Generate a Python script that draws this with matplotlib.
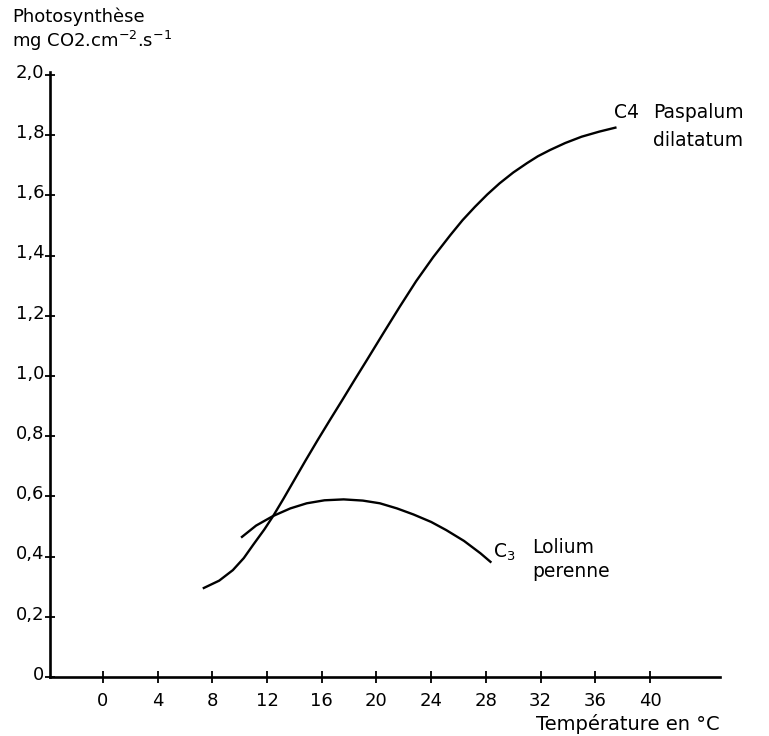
"""Photosynthèse en fonction de la température : C4 (Paspalum) vs C3 (Lolium)."""

import matplotlib

matplotlib.use("Agg")
import matplotlib.pyplot as plt  # noqa: E402
from matplotlib.transforms import ScaledTranslation  # noqa: E402

# courbe C4 - Paspalum dilatatum
c4_temp = [7.3, 8.5, 9.5, 10.3, 11.0, 11.8, 12.45, 13.2, 14.0, 14.8, 15.7, 16.6,
           17.5, 18.4, 19.3, 20.5, 21.7, 22.9, 24.15, 25.4, 26.3, 27.2, 28.1, 29.0,
           30.0, 31.0, 31.8, 32.7, 33.8, 35.0, 36.3, 37.55]
c4_photo = [0.294, 0.320, 0.355, 0.395, 0.440, 0.490, 0.535, 0.592, 0.655, 0.718,
            0.787, 0.854, 0.920, 0.987, 1.053, 1.142, 1.230, 1.315, 1.395, 1.468,
            1.518, 1.562, 1.603, 1.640, 1.676, 1.707, 1.730, 1.751, 1.774, 1.795,
            1.812, 1.826]

# courbe C3 - Lolium perenne
c3_temp = [10.1, 11.2, 12.45, 13.7, 14.9, 16.2, 17.6, 19.0, 20.25, 21.5,
           22.7, 24.0, 25.1, 26.4, 27.6, 28.4]
c3_photo = [0.463, 0.503, 0.535, 0.560, 0.577, 0.587, 0.590, 0.586, 0.577, 0.560,
            0.540, 0.515, 0.488, 0.452, 0.411, 0.380]

x_ticks = [0, 4, 8, 12, 16, 20, 24, 28, 32, 36, 40]
y_ticks = [0, 0.2, 0.4, 0.6, 0.8, 1.0, 1.2, 1.4, 1.6, 1.8, 2.0]
y_labels = ["0", "0,2", "0,4", "0,6", "0,8", "1,0", "1,2", "1,4", "1,6", "1,8", "2,0"]

plt.rcParams["font.family"] = ["DejaVu Sans"]
plt.rcParams["mathtext.default"] = "regular"

fig = plt.figure(figsize=(7.69, 7.36), dpi=100)
ax = fig.add_axes([0.065, 0.0802, 0.871, 0.822])

ax.plot(c4_temp, c4_photo, color="black", lw=1.7, solid_capstyle="butt",
        solid_joinstyle="round")
ax.plot(c3_temp, c3_photo, color="black", lw=1.7, solid_capstyle="butt",
        solid_joinstyle="round")

ax.set_xlim(-3.87, 45.1)
ax.set_ylim(0, 2.01)
for side in ("top", "right"):
    ax.spines[side].set_visible(False)
for side in ("left", "bottom"):
    ax.spines[side].set_linewidth(1.9)

ax.set_xticks(x_ticks)
ax.set_yticks(y_ticks, labels=y_labels)
ax.tick_params(axis="x", direction="inout", length=8, width=1.3, pad=7, labelsize=13)
ax.tick_params(axis="y", direction="inout", length=7, width=1.3, pad=0.5, labelsize=13)
# les valeurs de l'axe y sont un peu au-dessus des graduations
shift = ScaledTranslation(0, 3 / 72, fig.dpi_scale_trans)
for lab in ax.get_yticklabels():
    lab.set_transform(lab.get_transform() + shift)

# étiquettes des courbes
ax.text(37.4, 1.874, "C4", fontsize=13.5, va="center", ha="left")
ax.text(40.2, 1.874, "Paspalum", fontsize=13.5, va="center", ha="left")
ax.text(40.2, 1.784, "dilatatum", fontsize=13.5, va="center", ha="left")
ax.text(28.5, 0.415, "C$_3$", fontsize=13.5, va="center", ha="left")
ax.text(31.4, 0.429, "Lolium", fontsize=13.5, va="center", ha="left")
ax.text(31.4, 0.349, "perenne", fontsize=13.5, va="center", ha="left")

fig.text(0.0156, 0.977, "Photosynthèse", fontsize=13, va="center", ha="left")
fig.text(0.0156, 0.944, "mg CO2.cm$^{-2}$.s$^{-1}$", fontsize=13, va="center", ha="left")
fig.text(0.936, 0.0165, "Température en °C", fontsize=14, va="center", ha="right")

fig.savefig("out.png", dpi=100, facecolor="white")
